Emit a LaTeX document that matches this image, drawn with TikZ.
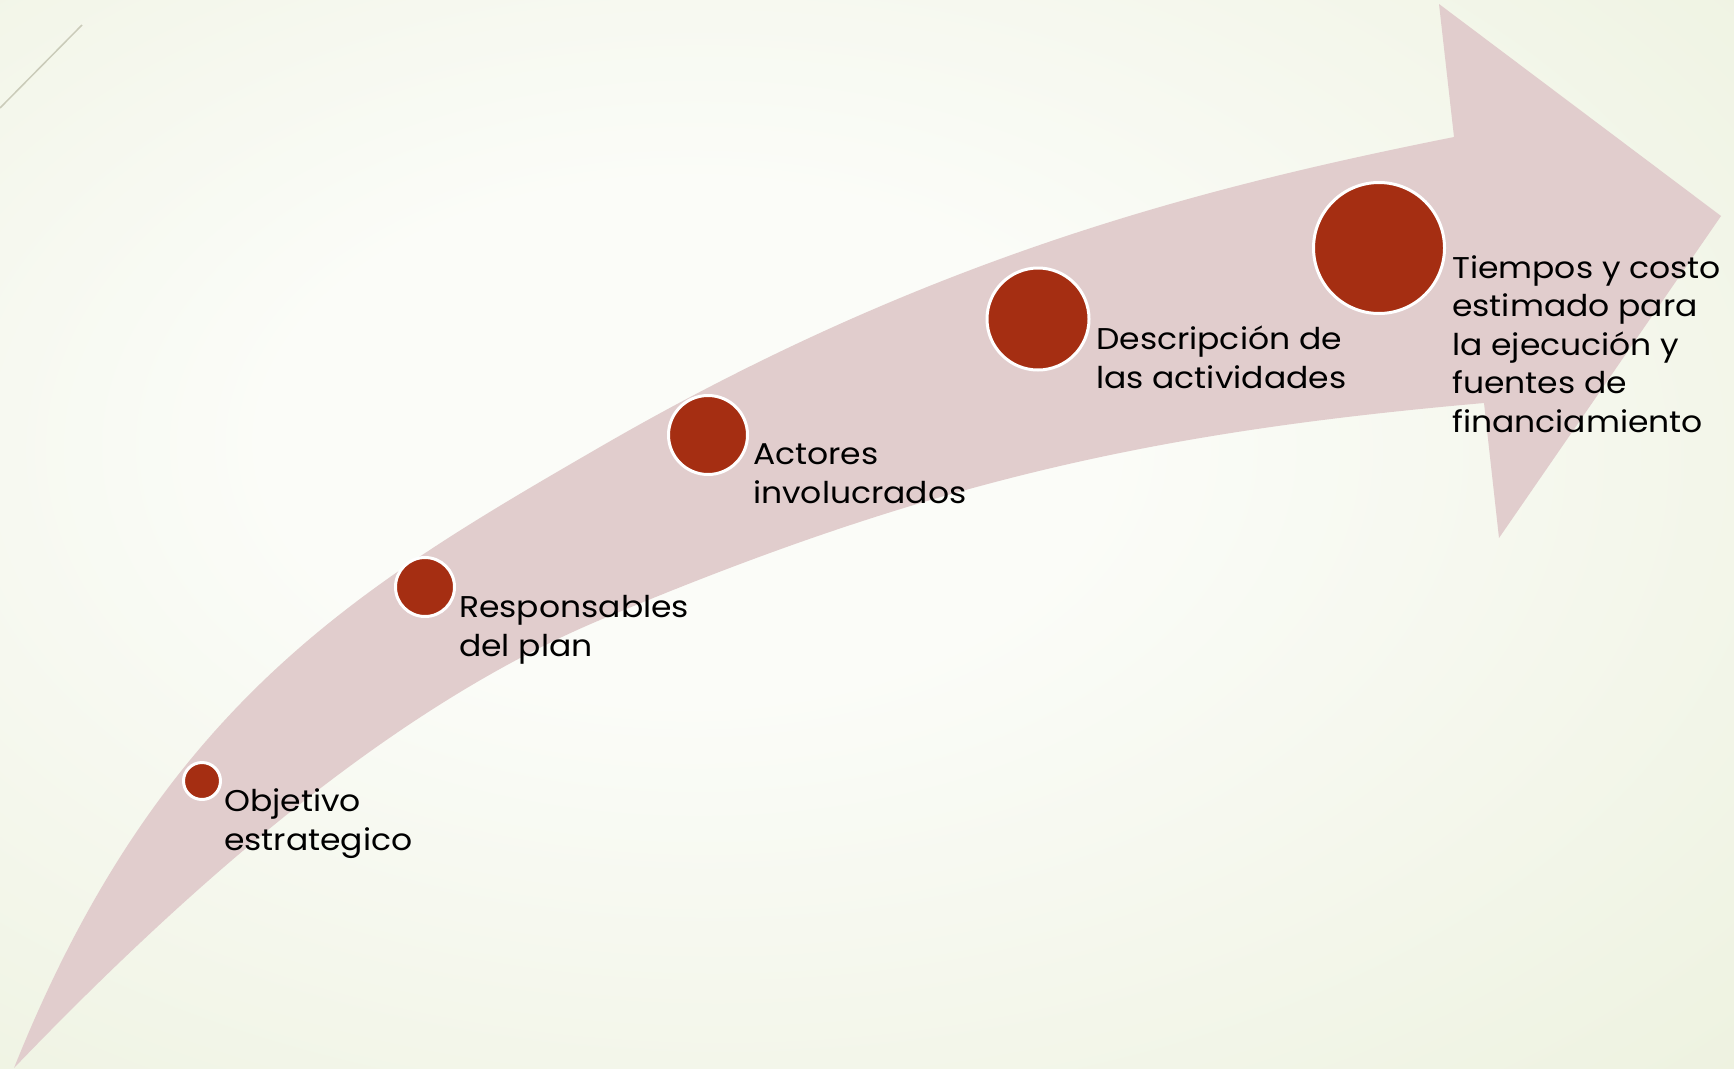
\documentclass[tikz,border=0pt]{standalone}
\usepackage{fontspec}
\setmainfont{Poppins}[FakeStretch=1.1]
\definecolor{bggreen}{HTML}{E3EACD}
\definecolor{bgwhite}{HTML}{FBFCF8}
\definecolor{arrowpink}{HTML}{E1CDCD}
\definecolor{dotred}{HTML}{A52E12}
\definecolor{decoline}{HTML}{CACBB9}
\pgfdeclareradialshading{bgshade}{\pgfpoint{-6bp}{5bp}}{color(0bp)=(bgwhite); color(12bp)=(bgwhite); color(62bp)=(bggreen); color(90bp)=(bggreen)}
\begin{document}
\begin{tikzpicture}[x=1pt,y=-1pt,
  dot/.style={circle, fill=dotred, draw=white, line width=3pt, inner sep=0pt},
  lbl/.style={anchor=base west, align=left, inner sep=0pt, font=\fontsize{30}{38.5}\selectfont, text=black}]
\useasboundingbox (0,0) rectangle (1734,1068);
\fill[bggreen] (0,0) rectangle (1734,1068);
\shade[shading=bgshade] (0,0) rectangle (1734,1068);
\coordinate (d1) at (0,108);
\coordinate (d2) at (82,25);
\draw[decoline, line width=1.5pt] (d1) -- (d2);
% curved arrow
\fill[arrowpink] (14,1068)
  .. controls (160,703) and (360,586) .. (600,447)
  .. controls (930,256) and (1204,187) .. (1454,137)
  -- (1439,4) -- (1721,216) -- (1499,538) -- (1484,403)
  .. controls (1154,432) and (930,481) .. (600,620)
  .. controls (405,702) and (209,865) .. (14,1068)
  -- cycle;
% dots
\node[dot, minimum size=37pt]  (c1) at (202,781) {};
\node[dot, minimum size=59pt]  (c2) at (425,587) {};
\node[dot, minimum size=79pt]  (c3) at (708,435) {};
\node[dot, minimum size=102pt] (c4) at (1038,319) {};
\node[dot, minimum size=131pt] (c5) at (1379,248) {};
% labels (anchor = baseline of the last line)
\node[lbl] (t1) at (224,850) {Objetivo\\estrategico};
\node[lbl] (t2) at (459,656) {Responsables\\del plan};
\node[lbl] (t3) at (753,503) {Actores\\involucrados};
\node[lbl] (t4) at (1096,388) {Descripción de\\las actividades};
\node[lbl] (t5) at (1452,432) {Tiempos y costo\\estimado para\\la ejecución y\\fuentes de\\financiamiento};
\end{tikzpicture}
\end{document}
